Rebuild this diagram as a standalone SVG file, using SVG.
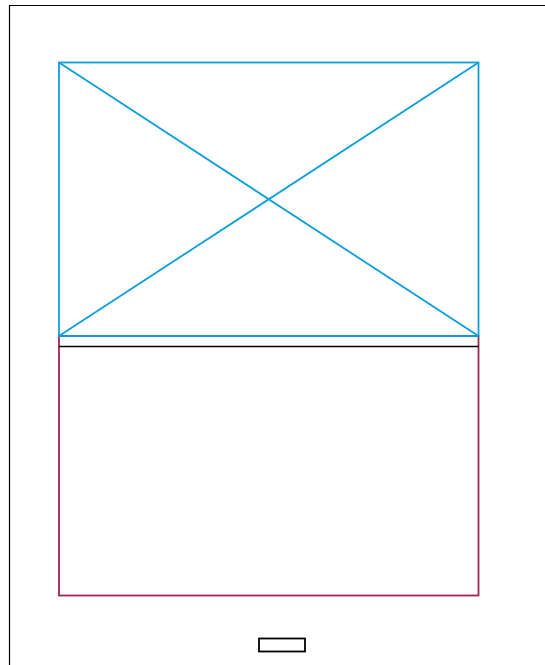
<svg xmlns="http://www.w3.org/2000/svg" width="545" height="665" viewBox="0 0 545 665">
<style>
.frame{fill:none;stroke:#000;stroke-width:1.2}
.img{fill:none;stroke:#0a9fdc;stroke-width:1.8}
.body{fill:#fff;stroke:#a3264e;stroke-width:1.8}
.line{stroke:#000;stroke-width:1.5}
.btn{fill:#fff;stroke:#000;stroke-width:1.8}
</style>
<rect width="545" height="665" fill="#fff"/>
<g id="frame"><path class="frame" d="M9.5 665 V5.5 H545"/></g>
<g id="body"><rect class="body" x="59" y="336" width="419.5" height="259.5"/></g>
<g id="image"><rect class="img" x="59" y="62.5" width="419.5" height="273.5"/>
<path class="img" d="M59 62.5 L478.5 336 M478.5 62.5 L59 336"/></g>
<g id="connectors"><line class="line" x1="59" y1="346.5" x2="478.5" y2="346.5"/></g>
<g id="button"><rect class="btn" x="259" y="638.5" width="46" height="13"/></g>
</svg>
